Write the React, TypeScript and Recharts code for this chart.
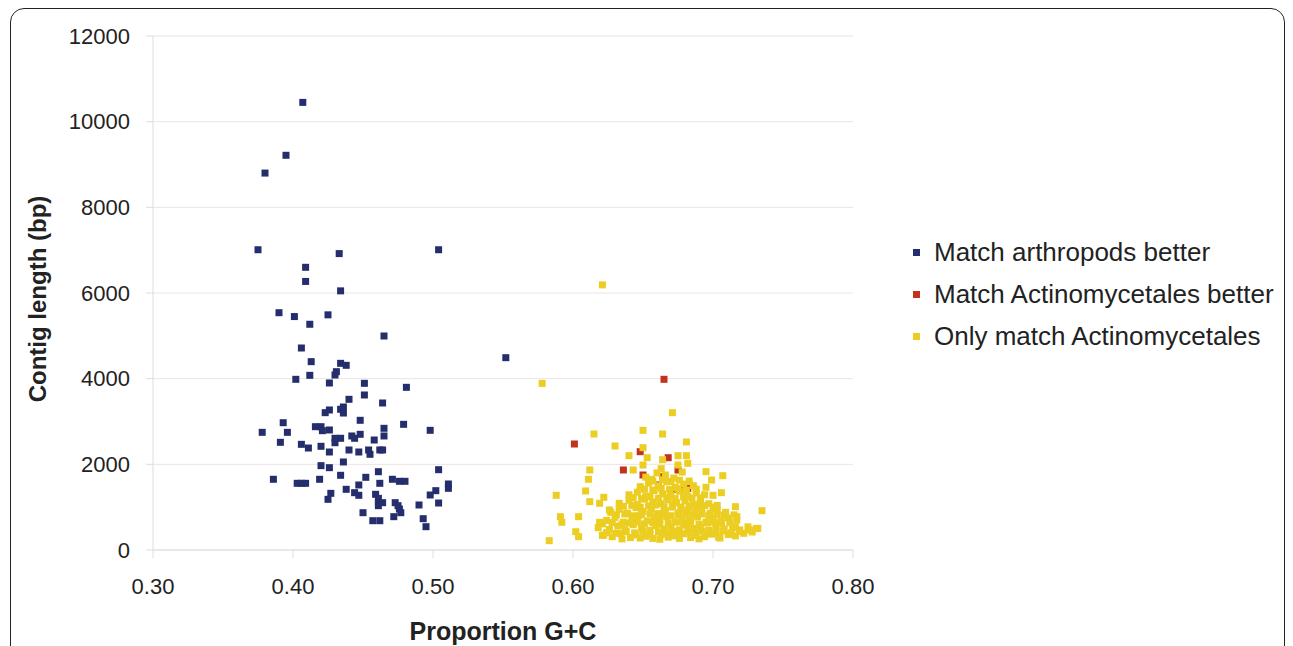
import {
    ScatterChart,
    Scatter,
    XAxis,
    YAxis,
    CartesianGrid,
    Legend,
    Label,
} from 'recharts';

// [proportion G+C, contig length]
const arthropods: [number, number][] = [
    [0.407, 10450], [0.395, 9215], [0.380, 8800], [0.375, 7010], [0.433, 6920],
    [0.504, 7010], [0.409, 6600], [0.409, 6270], [0.434, 6050], [0.390, 5540],
    [0.401, 5450], [0.412, 5270], [0.425, 5490], [0.465, 4996], [0.406, 4716],
    [0.552, 4490], [0.413, 4397], [0.434, 4358], [0.438, 4312], [0.431, 4163],
    [0.430, 4086], [0.412, 4078], [0.402, 3985], [0.426, 3899], [0.451, 3891],
    [0.481, 3798], [0.451, 3619], [0.440, 3518], [0.464, 3432], [0.426, 3269],
    [0.423, 3206], [0.436, 3339], [0.434, 3285], [0.436, 3198], [0.448, 3028],
    [0.393, 2972], [0.479, 2934], [0.498, 2794], [0.378, 2747], [0.396, 2747],
    [0.416, 2879], [0.420, 2879], [0.421, 2786], [0.426, 2802], [0.465, 2841],
    [0.465, 2662], [0.430, 2608], [0.434, 2608], [0.430, 2505], [0.442, 2662],
    [0.444, 2608], [0.448, 2701], [0.458, 2568], [0.391, 2514], [0.406, 2467],
    [0.411, 2381], [0.420, 2421], [0.426, 2288], [0.440, 2335], [0.447, 2288],
    [0.454, 2335], [0.455, 2234], [0.462, 2335], [0.464, 2335], [0.436, 2055],
    [0.420, 1969], [0.426, 1922], [0.504, 1875], [0.434, 1744], [0.461, 1828],
    [0.452, 1697], [0.386, 1651], [0.419, 1651], [0.403, 1557], [0.406, 1557],
    [0.409, 1557], [0.471, 1651], [0.476, 1604], [0.480, 1604], [0.462, 1557],
    [0.447, 1518], [0.511, 1541], [0.511, 1440], [0.438, 1417], [0.444, 1338],
    [0.447, 1277], [0.427, 1323], [0.425, 1183], [0.459, 1300], [0.461, 1206],
    [0.502, 1385], [0.498, 1284], [0.504, 1097], [0.461, 1105], [0.464, 1105],
    [0.461, 1035], [0.473, 1105], [0.475, 1035], [0.476, 957], [0.477, 871],
    [0.490, 1051], [0.450, 871], [0.472, 778], [0.493, 731], [0.457, 684],
    [0.462, 684], [0.495, 544],
];

const actinoBetter: [number, number][] = [
    [0.601, 2475], [0.636, 1868], [0.648, 2295], [0.665, 3985], [0.668, 2155],
    [0.664, 1712], [0.675, 1868], [0.674, 1417], [0.679, 1417], [0.682, 1440],
    [0.661, 1518], [0.650, 1751], [0.691, 1090],
];

const actinoOnly: [number, number][] = [
    // scattered points
    [0.621, 6190], [0.578, 3890], [0.671, 3206], [0.615, 2708], [0.650, 2794],
    [0.664, 2708], [0.681, 2522], [0.630, 2428], [0.650, 2389], [0.640, 2202],
    [0.653, 2155], [0.675, 2202], [0.681, 2202], [0.664, 2108], [0.682, 2024],
    [0.675, 1984], [0.650, 1984], [0.643, 1868], [0.612, 1868], [0.611, 1651],
    [0.609, 1378], [0.588, 1277], [0.612, 1128], [0.707, 1735], [0.695, 1464],
    [0.706, 1338], [0.700, 1277], [0.695, 1828], [0.699, 1634], [0.735, 918],
    [0.716, 1011], [0.717, 778], [0.732, 506], [0.726, 467], [0.716, 544],
    [0.591, 778], [0.592, 647], [0.604, 778], [0.602, 427], [0.604, 311],
    [0.583, 218], [0.622, 1230], [0.619, 1090], [0.622, 350], [0.619, 647],
    [0.626, 934],
    // dense cluster
    [0.621, 340], [0.628, 310], [0.634, 380], [0.641, 290], [0.645, 350],
    [0.652, 320], [0.657, 270], [0.663, 360], [0.668, 300], [0.672, 330],
    [0.679, 380], [0.684, 290], [0.688, 340], [0.694, 310], [0.699, 370],
    [0.704, 300], [0.711, 360], [0.716, 330], [0.722, 390], [0.728, 420],
    [0.635, 260], [0.648, 280], [0.662, 250], [0.676, 270], [0.690, 260],
    [0.705, 280],
    [0.624, 410], [0.631, 390], [0.638, 430], [0.644, 400], [0.650, 440],
    [0.655, 380], [0.661, 420], [0.666, 400], [0.671, 440], [0.676, 390],
    [0.682, 430], [0.687, 410], [0.692, 440], [0.697, 390], [0.702, 420],
    [0.707, 440], [0.713, 400], [0.719, 430],
    [0.618, 520], [0.626, 480], [0.632, 560], [0.637, 470], [0.643, 590],
    [0.649, 510], [0.655, 460], [0.659, 570], [0.665, 490], [0.670, 540],
    [0.676, 470], [0.681, 580], [0.686, 500], [0.691, 530], [0.697, 460],
    [0.702, 560], [0.708, 490], [0.714, 520], [0.719, 470], [0.725, 540],
    [0.731, 500],
    [0.621, 610], [0.628, 640], [0.635, 600], [0.640, 630], [0.646, 650],
    [0.651, 610], [0.657, 640], [0.662, 600], [0.668, 630], [0.674, 650],
    [0.679, 610], [0.684, 640], [0.690, 600], [0.696, 630], [0.701, 650],
    [0.706, 610], [0.712, 640],
    [0.624, 690], [0.630, 760], [0.636, 650], [0.642, 720], [0.647, 800],
    [0.653, 680], [0.658, 750], [0.662, 700], [0.667, 780], [0.673, 660],
    [0.678, 740], [0.683, 690], [0.689, 770], [0.695, 650], [0.700, 720],
    [0.706, 680], [0.711, 750], [0.717, 700],
    [0.631, 820], [0.637, 840], [0.643, 800], [0.649, 830], [0.655, 850],
    [0.660, 810], [0.665, 840], [0.670, 800], [0.675, 830], [0.681, 850],
    [0.686, 810], [0.692, 840], [0.697, 800], [0.703, 830], [0.708, 810],
    [0.627, 880], [0.633, 950], [0.639, 860], [0.645, 990], [0.650, 900],
    [0.656, 970], [0.661, 850], [0.666, 920], [0.671, 1000], [0.676, 870],
    [0.682, 940], [0.687, 890], [0.692, 980], [0.698, 860], [0.703, 930],
    [0.709, 880], [0.715, 820],
    [0.636, 1020], [0.642, 1040], [0.648, 1000], [0.654, 1030], [0.659, 1050],
    [0.665, 1010], [0.671, 1040], [0.677, 1000], [0.683, 1030], [0.689, 1010],
    [0.694, 1040], [0.700, 1000],
    [0.633, 1090], [0.640, 1160], [0.646, 1060], [0.651, 1190], [0.657, 1120],
    [0.663, 1080], [0.668, 1170], [0.674, 1100], [0.680, 1150], [0.686, 1060],
    [0.691, 1130], [0.697, 1080], [0.703, 1040],
    [0.643, 1220], [0.649, 1200], [0.655, 1240], [0.661, 1210], [0.667, 1230],
    [0.673, 1200], [0.679, 1240], [0.685, 1210], [0.691, 1220],
    [0.640, 1290], [0.646, 1350], [0.652, 1260], [0.658, 1390], [0.664, 1310],
    [0.670, 1280], [0.676, 1370], [0.682, 1250], [0.688, 1330], [0.694, 1290],
    [0.651, 1420], [0.657, 1400], [0.663, 1440], [0.669, 1410], [0.675, 1430],
    [0.681, 1400], [0.688, 1420],
    [0.648, 1480], [0.654, 1560], [0.661, 1500], [0.667, 1590], [0.673, 1460],
    [0.679, 1540], [0.686, 1500],
    [0.657, 1610], [0.664, 1640], [0.670, 1600], [0.676, 1630], [0.683, 1610],
    [0.652, 1700], [0.660, 1800], [0.666, 1750], [0.672, 1680], [0.678, 1820],
    [0.663, 1900], [0.656, 1650],
];

const seriesNames = ['Match arthropods better', 'Match Actinomycetales better', 'Only match Actinomycetales'];
const seriesColors = ['#252e6c', '#c3321f', '#ecce22'];

const xTicks = [0.3, 0.4, 0.5, 0.6, 0.7, 0.8];
const yTicks = [0, 2000, 4000, 6000, 8000, 10000, 12000];

const toPoints = (rows: [number, number][]) => rows.map(([gc, len]) => ({ gc, len }));

const font = '"Liberation Sans", Arial, Helvetica, sans-serif';

const square = (color: string) => (props: any) => (
    <rect x={props.cx - 3.5} y={props.cy - 3.5} width={7} height={7} fill={color} />
);

function LegendBox() {
    return (
        <div style={{ fontFamily: font, fontSize: 26, color: '#222' }}>
            {seriesNames.map((name, i) => (
                <div
                    key={name}
                    style={{ height: 42, display: 'flex', alignItems: 'center', whiteSpace: 'nowrap' }}
                >
                    <span
                        style={{ width: 7, height: 7, background: seriesColors[i], marginRight: 14, display: 'inline-block' }}
                    />
                    {name}
                </div>
            ))}
        </div>
    );
}

export default function App() {
    return (
        <div
            style={{
                marginLeft: 2,
                width: 1273,
                height: 660,
                border: '1px solid #222',
                borderRadius: 14,
                background: '#fff',
                fontFamily: font,
            }}
        >
            <ScatterChart
                width={1273}
                height={637}
                margin={{ top: 27, right: 431, bottom: 0, left: 0 }}
            >
                <CartesianGrid horizontal vertical={false} stroke="#ebe4e7" />
                <XAxis
                    type="number"
                    dataKey="gc"
                    domain={[0.3, 0.8]}
                    ticks={xTicks}
                    tickFormatter={(v: number) => v.toFixed(2)}
                    height={96}
                    stroke="#dddddd"
                    tickSize={8}
                    tickMargin={20}
                    tick={{ fill: '#222', fontSize: 22, fontFamily: font }}
                >
                    <Label
                        content={(p: any) => {
                            const vb = p.viewBox;
                            return (
                                <text
                                    x={vb.x + vb.width / 2}
                                    y={631}
                                    textAnchor="middle"
                                    fontSize={25}
                                    fontWeight="bold"
                                    fontFamily={font}
                                    fill="#222"
                                >
                                    Proportion G+C
                                </text>
                            );
                        }}
                    />
                </XAxis>
                <YAxis
                    type="number"
                    dataKey="len"
                    domain={[0, 12000]}
                    ticks={yTicks}
                    width={142}
                    stroke="#dddddd"
                    tickSize={7}
                    tickMargin={16}
                    tick={{ fill: '#222', fontSize: 22, fontFamily: font }}
                >
                    <Label
                        content={(p: any) => {
                            const vb = p.viewBox;
                            const cy = vb.y + vb.height / 2 + 6;
                            return (
                                <text
                                    x={35}
                                    y={cy}
                                    transform={`rotate(-90 35 ${cy})`}
                                    textAnchor="middle"
                                    fontSize={24}
                                    fontWeight="bold"
                                    fontFamily={font}
                                    fill="#222"
                                >
                                    Contig length (bp)
                                </text>
                            );
                        }}
                    />
                </YAxis>
                <Legend
                    layout="horizontal"
                    verticalAlign="middle"
                    align="center"
                    wrapperStyle={{ left: 902, top: 222, width: 370 }}
                    content={LegendBox}
                />
                <Scatter
                    name={seriesNames[0]}
                    data={toPoints(arthropods)}
                    fill={seriesColors[0]}
                    shape={square(seriesColors[0])}
                    isAnimationActive={false}
                />
                <Scatter
                    name={seriesNames[1]}
                    data={toPoints(actinoBetter)}
                    fill={seriesColors[1]}
                    shape={square(seriesColors[1])}
                    isAnimationActive={false}
                />
                <Scatter
                    name={seriesNames[2]}
                    data={toPoints(actinoOnly)}
                    fill={seriesColors[2]}
                    shape={square(seriesColors[2])}
                    isAnimationActive={false}
                />
            </ScatterChart>
        </div>
    );
}
